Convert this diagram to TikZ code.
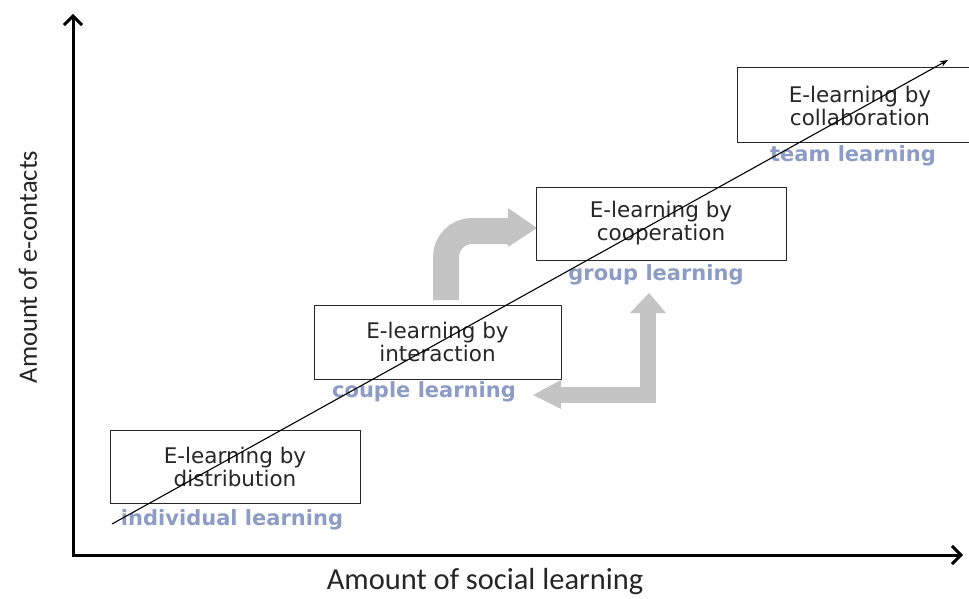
\documentclass[tikz,border=0pt]{standalone}
\usepackage{fontspec}
\setmainfont{DejaVu Sans}
\newfontfamily\calib{Carlito}
\usetikzlibrary{arrows.meta}
\definecolor{lblue}{RGB}{140,156,196}
\definecolor{arrgray}{RGB}{196,196,196}
\definecolor{boxline}{RGB}{40,40,40}
\tikzset{
  stagebox/.style={draw=boxline, line width=1pt, minimum height=73pt, align=center,
    font=\fontsize{21.5}{23}\selectfont, text=black!85, inner sep=0pt},
  stagelabel/.style={text=lblue, font=\bfseries\fontsize{21}{23}\selectfont, inner sep=0pt},
  axis/.style={line width=3pt, -{Straight Barb[length=9pt,width=18pt,line width=3pt]}},
  grayshaft/.style={draw=arrgray, line width=#1},
  grayhead/.style={fill=arrgray, draw=none}
}
\begin{document}
\begin{tikzpicture}[x=1pt,y=-1pt]
\useasboundingbox (0,0) rectangle (969,599);
\fill[white] (0,0) rectangle (969,599);

% axes
\coordinate (O) at (73,555);
\coordinate (ytop) at (73,14);
\coordinate (xend) at (963,555);
\draw[axis] ([yshift=-1.5pt]O) -- (ytop);
\draw[axis] ([xshift=-1.5pt]O) -- (xend);

\node[font=\calib\fontsize{30.5}{34}\selectfont, text=black!85, inner sep=0pt] (xlab) at (485,582) {Amount of social learning};
\node[font=\calib\fontsize{26.5}{30}\selectfont, text=black!85, inner sep=0pt, rotate=90] (ylab) at (28,267) {Amount of e-contacts};

% gray arrows
\draw[grayshaft=26pt, rounded corners=26pt] (446,300) -- (446,231) -- (512,231);
\fill[grayhead] (508,208) -- (537,228) -- (508,247) -- cycle;

\draw[grayshaft=16pt] (560,395) -- (648,395) -- (648,311);
\fill[grayhead] (630,313) -- (649,293) -- (666,313) -- cycle;
\fill[grayhead] (561,380) -- (533,395) -- (561,409) -- cycle;

% boxes
\node[stagebox, minimum width=250pt] (dist) at (235,466.5) {E-learning by\\distribution};
\node[stagebox, minimum width=247pt, minimum height=74pt] (inter) at (437.5,342) {E-learning by\\interaction};
\node[stagebox, minimum width=250pt] (coop) at (661,223.5) {E-learning by\\cooperation};
\node[stagebox, minimum width=246pt, minimum height=75pt] (coll) at (860,105.5) {E-learning by\\collaboration};

% labels
\node[stagelabel] (ind) at (232,520) {individual learning};
\node[stagelabel] (cpl) at (424,392) {couple learning};
\node[stagelabel] (grp) at (656,275) {group learning};
\node[stagelabel] (team) at (853,156) {team learning};

% diagonal
\coordinate (dstart) at (112,524);
\coordinate (dend) at (948,60);
\draw[line width=1.1pt, -{Stealth[length=8pt,width=6pt]}] (dstart) -- (dend);
\end{tikzpicture}
\end{document}
